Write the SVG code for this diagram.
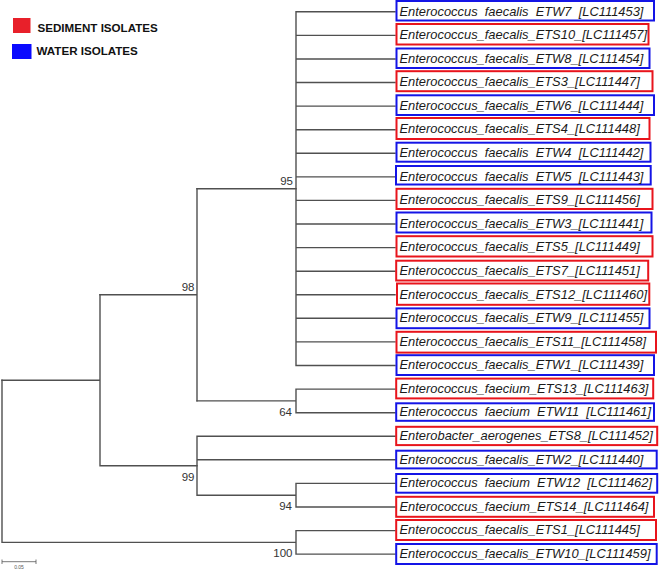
<svg xmlns="http://www.w3.org/2000/svg" width="661" height="572" viewBox="0 0 661 572">
<style>
.br{stroke:#505050;stroke-width:1.4;fill:none;stroke-linecap:square}
.lab{font-family:"Liberation Sans",Arial,sans-serif;font-style:italic;font-size:12.9px;fill:#1a1a1a}
.sp{word-spacing:3.6px}
.bs{font-family:"Liberation Sans",Arial,sans-serif;font-size:11.5px;fill:#333;text-anchor:end}
.red{fill:#fff;stroke:#e8141c;stroke-width:2}
.blue{fill:#fff;stroke:#1414e6;stroke-width:2}
.leg{font-family:"Liberation Sans",Arial,sans-serif;font-weight:bold;font-size:11.6px;fill:#111}
</style>
<rect width="661" height="572" fill="#fff"/>
<g id="legend">
<rect x="13" y="18" width="17.5" height="15" fill="#e8202a"/>
<text class="leg" x="37.5" y="31.5">SEDIMENT ISOLATES</text>
<rect x="12" y="44" width="19.5" height="15" fill="#0a0aff"/>
<text class="leg" x="36.5" y="55">WATER ISOLATES</text>
</g>
<g id="connectors" class="br">
<path d="M296 11.8V365.5M296 11.8H395M296 35.4H395M296 59H395M296 82.5H395M296 106.1H395M296 129.7H395M296 153.3H395M296 176.9H395M296 200.4H395M296 224H395M296 247.6H395M296 271.2H395M296 294.8H395M296 318.3H395M296 341.9H395M296 365.5H395"/>
<path d="M197 188.7H296M197 400.9H296M296 389.1V412.7M296 389.1H395M296 412.7H395"/>
<path d="M197 188.7V400.9M100 294.8H197"/>
<path d="M197 436.2V495.2M197 436.2H395M197 459.8H395M197 495.2H296M296 483.4V507M296 483.4H395M296 507H395"/>
<path d="M100 465.7H197M100 294.8V465.7M2 380.2H100"/>
<path d="M296 530.6V554.1M296 530.6H395M296 554.1H395M2 542.4H296M2 380.2V542.4"/>
</g>
<g id="bootstrap">
<text class="bs" x="293" y="185">95</text>
<text class="bs" x="194.5" y="291">98</text>
<text class="bs" x="292" y="416">64</text>
<text class="bs" x="194.5" y="481">99</text>
<text class="bs" x="292" y="509.5">94</text>
<text class="bs" x="292.5" y="557">100</text>
</g>
<g id="scale">
<path d="M2 561.7H36M2 559.5V564M36 559.5V564" stroke="#555" stroke-width="0.8" fill="none"/>
<text x="19" y="569" font-family="Liberation Sans,Arial,sans-serif" font-size="5" fill="#555" text-anchor="middle">0.05</text>
</g>
<g id="ETW7"><rect class="blue" x="396.5" y="1" width="257.5" height="19.5"/><text class="lab sp" x="399.5" y="15.5">Enterococcus faecalis ETW7 [LC111453]</text></g>
<g id="ETS10"><rect class="red" x="396.5" y="24" width="252" height="20.5"/><text class="lab" x="399.5" y="39.1">Enterococcus_faecalis_ETS10_[LC111457]</text></g>
<g id="ETW8"><rect class="blue" x="396.5" y="48.5" width="253" height="19.5"/><text class="lab" x="399.5" y="62.7">Enterococcus_faecalis_ETW8_[LC111454]</text></g>
<g id="ETS3"><rect class="red" x="396.5" y="71.2" width="256" height="20"/><text class="lab" x="399.5" y="86.2">Enterococcus_faecalis_ETS3_[LC111447]</text></g>
<g id="ETW6"><rect class="blue" x="396.5" y="95.3" width="257.5" height="19.7"/><text class="lab" x="399.5" y="109.8">Enterococcus_faecalis_ETW6_[LC111444]</text></g>
<g id="ETS4"><rect class="red" x="396.5" y="118" width="253" height="21"/><text class="lab" x="399.5" y="133.4">Enterococcus_faecalis_ETS4_[LC111448]</text></g>
<g id="ETW4"><rect class="blue" x="396.5" y="142.7" width="254" height="19"/><text class="lab sp" x="399.5" y="157">Enterococcus faecalis ETW4 [LC111442]</text></g>
<g id="ETW5"><rect class="blue" x="396" y="166" width="254.7" height="18.5"/><text class="lab sp" x="399.5" y="180.6">Enterococcus faecalis ETW5 [LC111443]</text></g>
<g id="ETS9"><rect class="red" x="396.5" y="188.8" width="256" height="20.2"/><text class="lab" x="399.5" y="204.1">Enterococcus_faecalis_ETS9_[LC111456]</text></g>
<g id="ETW3"><rect class="blue" x="396.5" y="212.5" width="255" height="20"/><text class="lab" x="399.5" y="227.7">Enterococcus_faecalis_ETW3_[LC111441]</text></g>
<g id="ETS5"><rect class="red" x="396.5" y="236.2" width="256" height="20.3"/><text class="lab" x="399.5" y="251.3">Enterococcus_faecalis_ETS5_[LC111449]</text></g>
<g id="ETS7"><rect class="red" x="396.2" y="260.7" width="252" height="19.8"/><text class="lab" x="399.5" y="274.9">Enterococcus_faecalis_ETS7_[LC111451]</text></g>
<g id="ETS12"><rect class="red" x="397" y="283.5" width="252.3" height="21.3"/><text class="lab" x="399.5" y="298.5">Enterococcus_faecalis_ETS12_[LC111460]</text></g>
<g id="ETW9"><rect class="blue" x="396.5" y="308.4" width="253" height="19.8"/><text class="lab" x="399.5" y="322">Enterococcus_faecalis_ETW9_[LC111455]</text></g>
<g id="ETS11"><rect class="red" x="396.5" y="331.8" width="259.5" height="20.8"/><text class="lab" x="399.5" y="345.6">Enterococcus_faecalis_ETS11_[LC111458]</text></g>
<g id="ETW1"><rect class="blue" x="396.5" y="355.2" width="257.5" height="19.8"/><text class="lab" x="399.5" y="369.2">Enterococcus_faecalis_ETW1_[LC111439]</text></g>
<g id="ETS13"><rect class="red" x="396.2" y="378.6" width="257" height="19.8"/><text class="lab" x="399.5" y="392.8">Enterococcus_faecium_ETS13_[LC111463]</text></g>
<g id="ETW11"><rect class="blue" x="396.2" y="403.3" width="257.8" height="17.5"/><text class="lab sp" x="399.5" y="416.4">Enterococcus faecium ETW11 [LC111461]</text></g>
<g id="ETS8"><rect class="red" x="396.2" y="426.8" width="261" height="18.3"/><text class="lab" x="399.5" y="439.9">Enterobacter_aerogenes_ETS8_[LC111452]</text></g>
<g id="ETW2"><rect class="blue" x="396.2" y="450.7" width="260.5" height="17.7"/><text class="lab" x="399.5" y="463.5">Enterococcus_faecalis_ETW2_[LC111440]</text></g>
<g id="ETW12"><rect class="blue" x="396.2" y="474" width="261" height="18.7"/><text class="lab sp" x="399.5" y="487.1">Enterococcus faecium ETW12 [LC111462]</text></g>
<g id="ETS14"><rect class="red" x="396.2" y="496.8" width="257.8" height="20"/><text class="lab" x="399.5" y="510.7">Enterococcus_faecium_ETS14_[LC111464]</text></g>
<g id="ETS1"><rect class="red" x="396.2" y="520" width="259.8" height="20"/><text class="lab" x="399.5" y="534.3">Enterococcus_faecalis_ETS1_[LC111445]</text></g>
<g id="ETW10"><rect class="blue" x="396.2" y="544" width="260.5" height="20"/><text class="lab" x="399.5" y="557.8">Enterococcus_faecalis_ETW10_[LC111459]</text></g>
</svg>
